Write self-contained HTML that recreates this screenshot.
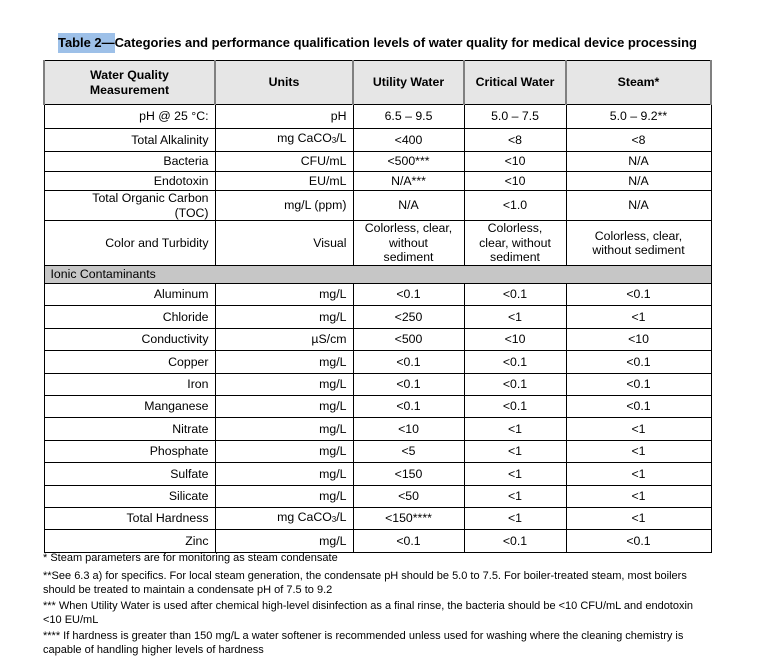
<!DOCTYPE html>
<html><head><meta charset="utf-8"><style>
body{margin:0;width:757px;height:670px;background:#fff;font-family:"Liberation Sans",Arial,sans-serif;color:#000;position:relative;overflow:hidden}
.title{position:absolute;left:58px;top:35px;font-size:12.95px;font-weight:bold;white-space:nowrap}
.title span{background:#9dc0e8;padding:2px 0 3px 0}
table{position:absolute;left:43px;top:60px;border-collapse:collapse;table-layout:fixed;font-size:12.3px;line-height:14.5px}
td{border:1px solid #000;padding:0 6px;overflow:hidden;white-space:nowrap}
td.r{text-align:right}
td.c{text-align:center}
tr.h td{background:#e6e6e6;font-weight:bold;text-align:center;border-left:2px solid #808080;border-right:2px solid #808080}
tr.g td{background:#c6c6c6;text-align:left;padding-left:6px}
.fn{position:absolute;left:43px;top:551px;width:670px;font-size:11px;line-height:14px}
.fn p{margin:0 0 2px 0}
.fn p.first{margin-bottom:4px}
</style></head><body>
<div class="title"><span>Table 2—</span>Categories and performance qualification levels of water quality for medical device processing</div>
<table>
<colgroup><col style="width:171px"><col style="width:138px"><col style="width:111px"><col style="width:102px"><col style="width:145px"></colgroup>
<tr class="h" style="height:44px"><td>Water Quality<br>Measurement</td><td>Units</td><td>Utility Water</td><td>Critical Water</td><td>Steam*</td></tr>
<tr style="height:24px"><td class="r">pH @ 25 °C:</td><td class="r">pH</td><td class="c">6.5 – 9.5</td><td class="c">5.0 – 7.5</td><td class="c">5.0 – 9.2**</td></tr>
<tr style="height:23px"><td class="r">Total Alkalinity</td><td class="r">mg CaCO<sub style="font-size:8px;vertical-align:-1px">3</sub>/L</td><td class="c">&lt;400</td><td class="c">&lt;8</td><td class="c">&lt;8</td></tr>
<tr style="height:20px"><td class="r">Bacteria</td><td class="r">CFU/mL</td><td class="c">&lt;500***</td><td class="c">&lt;10</td><td class="c">N/A</td></tr>
<tr style="height:19px"><td class="r">Endotoxin</td><td class="r">EU/mL</td><td class="c">N/A***</td><td class="c">&lt;10</td><td class="c">N/A</td></tr>
<tr style="height:30px"><td class="r">Total Organic Carbon<br>(TOC)</td><td class="r">mg/L (ppm)</td><td class="c">N/A</td><td class="c">&lt;1.0</td><td class="c">N/A</td></tr>
<tr style="height:45px"><td class="r">Color and Turbidity</td><td class="r">Visual</td><td class="c">Colorless, clear,<br>without<br>sediment</td><td class="c">Colorless,<br>clear, without<br>sediment</td><td class="c">Colorless, clear,<br>without sediment</td></tr>
<tr class="g" style="height:18px"><td colspan="5">Ionic Contaminants</td></tr>
<tr style="height:22.4px"><td class="r">Aluminum</td><td class="r">mg/L</td><td class="c">&lt;0.1</td><td class="c">&lt;0.1</td><td class="c">&lt;0.1</td></tr>
<tr style="height:22.4px"><td class="r">Chloride</td><td class="r">mg/L</td><td class="c">&lt;250</td><td class="c">&lt;1</td><td class="c">&lt;1</td></tr>
<tr style="height:22.4px"><td class="r">Conductivity</td><td class="r">µS/cm</td><td class="c">&lt;500</td><td class="c">&lt;10</td><td class="c">&lt;10</td></tr>
<tr style="height:22.4px"><td class="r">Copper</td><td class="r">mg/L</td><td class="c">&lt;0.1</td><td class="c">&lt;0.1</td><td class="c">&lt;0.1</td></tr>
<tr style="height:22.4px"><td class="r">Iron</td><td class="r">mg/L</td><td class="c">&lt;0.1</td><td class="c">&lt;0.1</td><td class="c">&lt;0.1</td></tr>
<tr style="height:22.4px"><td class="r">Manganese</td><td class="r">mg/L</td><td class="c">&lt;0.1</td><td class="c">&lt;0.1</td><td class="c">&lt;0.1</td></tr>
<tr style="height:22.4px"><td class="r">Nitrate</td><td class="r">mg/L</td><td class="c">&lt;10</td><td class="c">&lt;1</td><td class="c">&lt;1</td></tr>
<tr style="height:22.4px"><td class="r">Phosphate</td><td class="r">mg/L</td><td class="c">&lt;5</td><td class="c">&lt;1</td><td class="c">&lt;1</td></tr>
<tr style="height:22.4px"><td class="r">Sulfate</td><td class="r">mg/L</td><td class="c">&lt;150</td><td class="c">&lt;1</td><td class="c">&lt;1</td></tr>
<tr style="height:22.4px"><td class="r">Silicate</td><td class="r">mg/L</td><td class="c">&lt;50</td><td class="c">&lt;1</td><td class="c">&lt;1</td></tr>
<tr style="height:22.4px"><td class="r">Total Hardness</td><td class="r">mg CaCO<sub style="font-size:8px;vertical-align:-1px">3</sub>/L</td><td class="c">&lt;150****</td><td class="c">&lt;1</td><td class="c">&lt;1</td></tr>
<tr style="height:22.4px"><td class="r">Zinc</td><td class="r">mg/L</td><td class="c">&lt;0.1</td><td class="c">&lt;0.1</td><td class="c">&lt;0.1</td></tr>
</table>
<div class="fn">
<p class="first">* Steam parameters are for monitoring as steam condensate</p>
<p>**See 6.3 a) for specifics. For local steam generation, the condensate pH should be 5.0 to 7.5. For boiler-treated steam, most boilers should be treated to maintain a condensate pH of 7.5 to 9.2</p>
<p>*** When Utility Water is used after chemical high-level disinfection as a final rinse, the bacteria should be &lt;10 CFU/mL and endotoxin &lt;10 EU/mL</p>
<p>**** If hardness is greater than 150 mg/L a water softener is recommended unless used for washing where the cleaning chemistry is capable of handling higher levels of hardness</p>
</div>
</body></html>
